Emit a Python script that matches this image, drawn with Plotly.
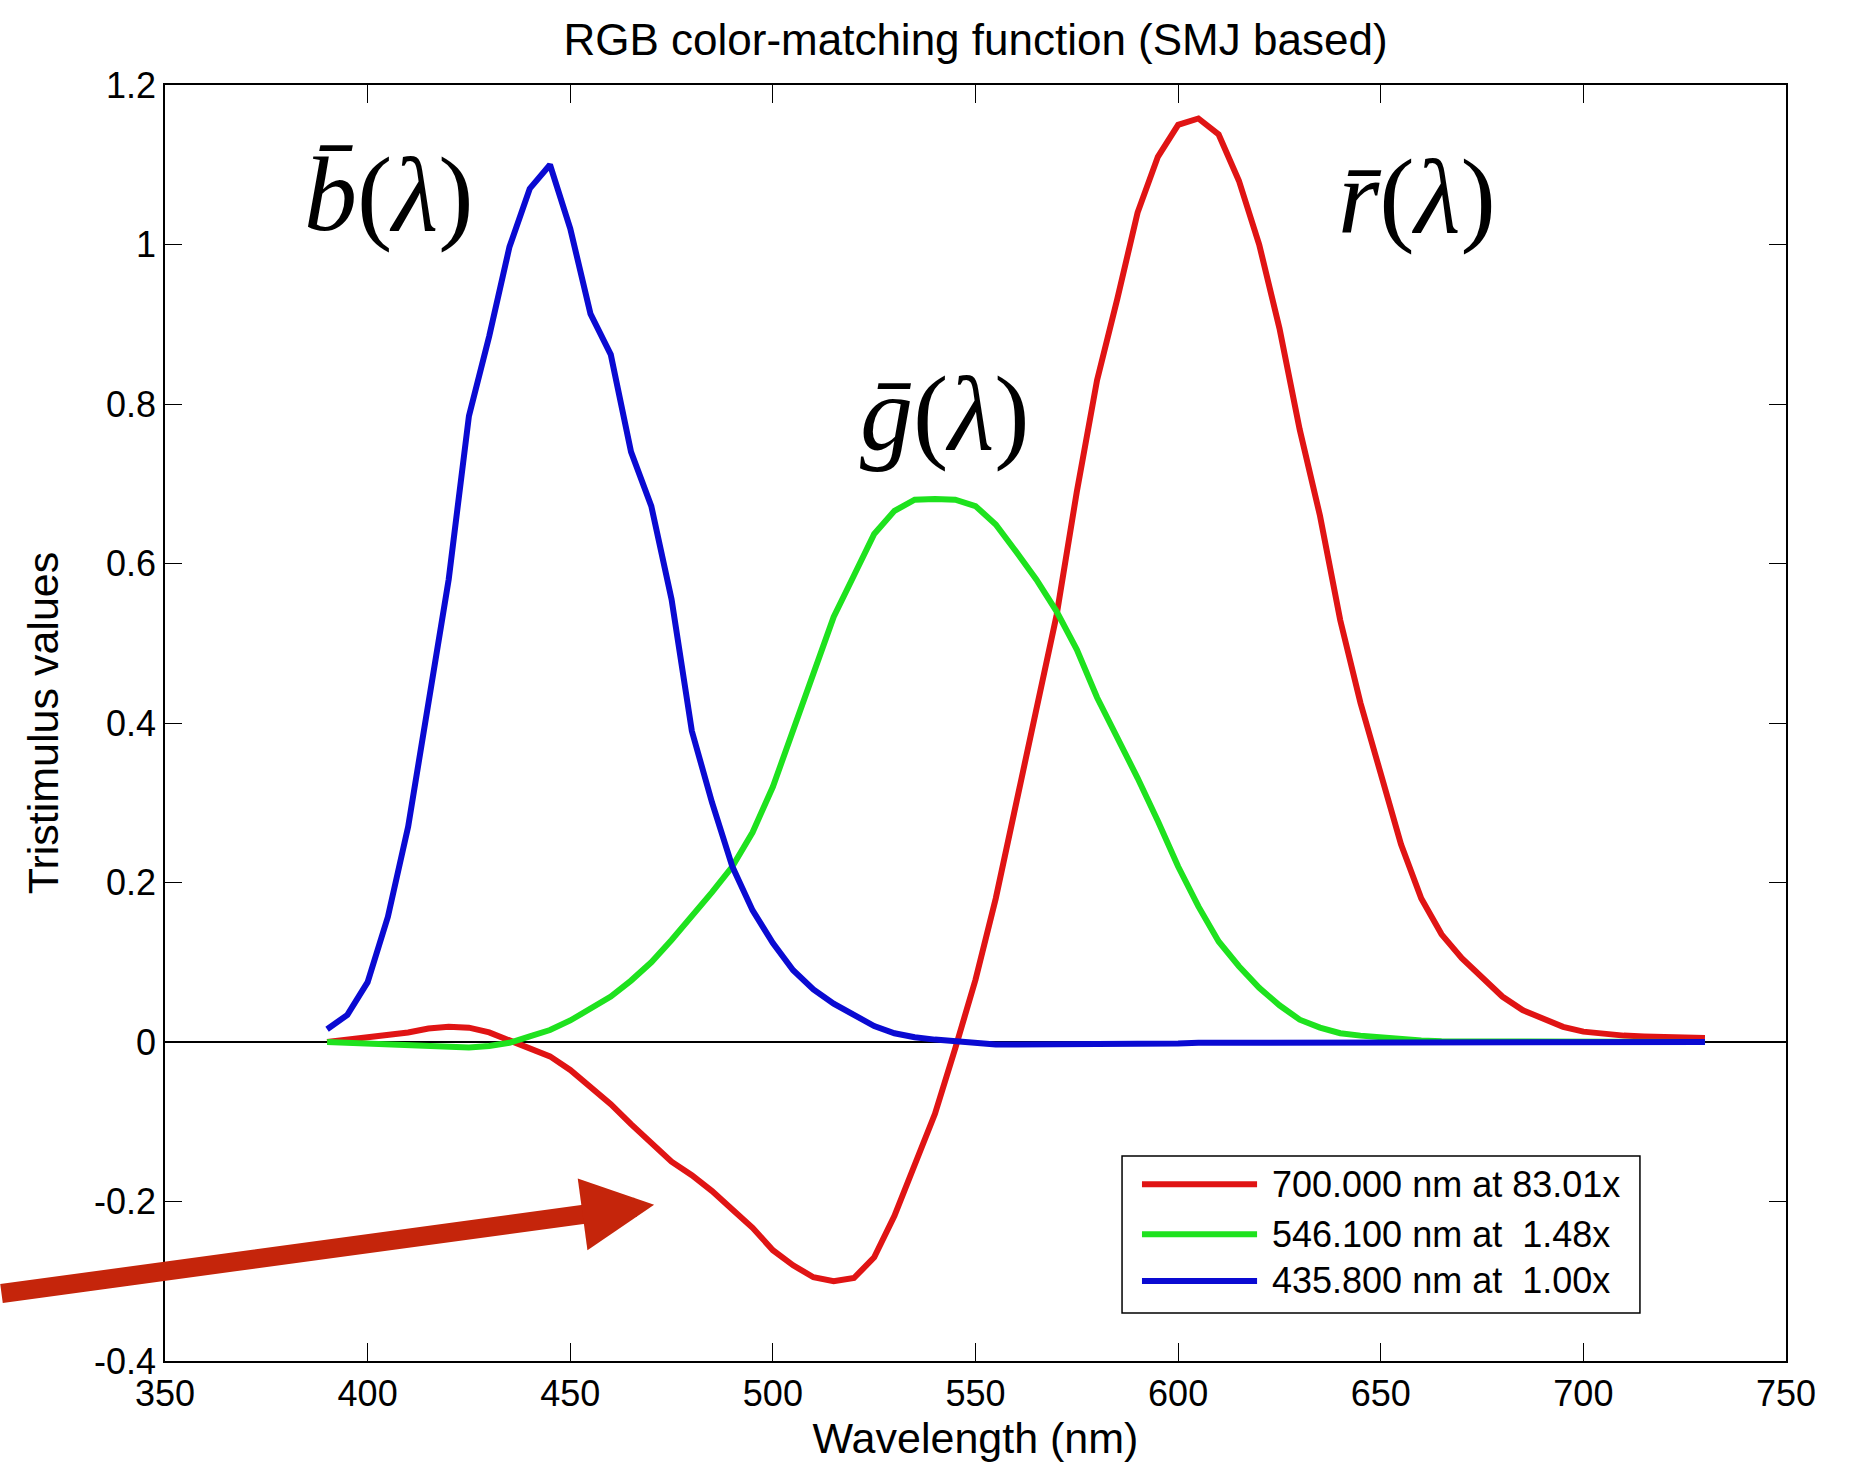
import plotly.graph_objects as go

# ---------------- data ----------------
wavelength = list(range(390, 735, 5))

r_bar = [0.000, 0.003, 0.007, 0.009, 0.012, 0.017, 0.019, 0.018, 0.012, 0.002,
         -0.008, -0.018, -0.035, -0.056, -0.078, -0.103, -0.127, -0.150, -0.167, -0.187,
         -0.210, -0.233, -0.261, -0.280, -0.295, -0.300, -0.296, -0.270, -0.218, -0.153,
         -0.090, -0.008, 0.078, 0.180, 0.300, 0.416, 0.535, 0.690, 0.830, 0.932,
         1.040, 1.110, 1.150, 1.158, 1.138, 1.080, 1.000, 0.895, 0.768, 0.660,
         0.529, 0.425, 0.333, 0.248, 0.180, 0.135, 0.105, 0.080, 0.057, 0.040,
         0.029, 0.019, 0.013, 0.010, 0.008, 0.007, 0.006, 0.006, 0.005]

g_bar = [0.000, -0.001, -0.002, -0.003, -0.004, -0.005, -0.006, -0.007, -0.005, -0.001,
         0.007, 0.015, 0.027, 0.041, 0.057, 0.077, 0.100, 0.128, 0.157, 0.188,
         0.220, 0.263, 0.320, 0.390, 0.458, 0.533, 0.585, 0.637, 0.666, 0.680,
         0.681, 0.680, 0.672, 0.649, 0.615, 0.580, 0.540, 0.492, 0.432, 0.382,
         0.331, 0.277, 0.220, 0.170, 0.126, 0.095, 0.068, 0.046, 0.028, 0.018,
         0.011, 0.008, 0.006, 0.003, 0.002, 0.001, 0.001, 0.001, 0.000, 0.000,
         0.000, 0.000, 0.000, 0.000, 0.000, 0.000, 0.000, 0.000, 0.000]

b_bar = [0.016, 0.034, 0.075, 0.157, 0.270, 0.420, 0.580, 0.785, 0.885, 0.997,
         1.070, 1.100, 1.020, 0.913, 0.862, 0.740, 0.672, 0.555, 0.390, 0.300,
         0.220, 0.165, 0.124, 0.090, 0.066, 0.048, 0.033, 0.020, 0.011, 0.006,
         0.003, 0.001, -0.002, -0.003, -0.003, -0.003, -0.003, -0.003, -0.003, -0.002,
         -0.002, -0.002, -0.002, -0.001, -0.001, -0.001, -0.001, -0.001, -0.001, -0.001,
         -0.001, -0.001, -0.001, -0.001, -0.001, 0.000, 0.000, 0.000, 0.000, 0.000,
         0.000, 0.000, 0.000, 0.000, 0.000, 0.000, 0.000, 0.000, 0.000]

series_values = [r_bar, g_bar, b_bar]
series_names = ["700.000 nm at 83.01x", "546.100 nm at \u00a01.48x", "435.800 nm at \u00a01.00x"]
series_colors = ["#E01414", "#1EE21E", "#0A0AD2"]

curve_labels = ["<i>r\u0304</i>(<i>\u03bb</i>)", "<i>g\u0304</i>(<i>\u03bb</i>)", "<i>b\u0304</i>(<i>\u03bb</i>)"]
curve_label_x = [658.9, 542.5, 405.3]
curve_label_y = [1.060, 0.788, 1.063]

x_ticks = [350, 400, 450, 500, 550, 600, 650, 700, 750]
y_ticks = [-0.4, -0.2, 0, 0.2, 0.4, 0.6, 0.8, 1, 1.2]
y_tick_labels = ["-0.4", "-0.2", "0", "0.2", "0.4", "0.6", "0.8", "1", "1.2"]

arrow_tip = (470.7, -0.204)

# ---------------- figure ----------------
SANS = "Liberation Sans, Arial, Helvetica, sans-serif"
fig = go.Figure()

for name, vals, col in zip(series_names, series_values, series_colors):
    fig.add_trace(go.Scatter(
        x=wavelength, y=vals, mode="lines", name=name,
        line=dict(color=col, width=6), showlegend=False,
    ))

annotations = []
for txt, lx, ly in zip(curve_labels, curve_label_x, curve_label_y):
    annotations.append(dict(
        x=lx, y=ly, xref="x", yref="y", text=txt, showarrow=False,
        font=dict(family="Liberation Serif, Times New Roman, serif", size=106, color="black"),
        xanchor="center", yanchor="middle",
    ))

# annotation arrow
annotations.append(dict(
    x=arrow_tip[0], y=arrow_tip[1], xref="x", yref="y", text="",
    showarrow=True, ax=-670, ay=89, axref="pixel", ayref="pixel",
    arrowhead=2, arrowwidth=19, arrowsize=0.76, arrowcolor="#C5250B", standoff=0,
))

# manual legend (MATLAB-style box with long line samples)
row_y = [0.1385, 0.0993, 0.0627]
shapes = [dict(type="rect", xref="paper", yref="paper", x0=0.5904, x1=0.9099,
               y0=0.0376, y1=0.1607, line=dict(color="black", width=1.5),
               fillcolor="white", layer="above")]
for name, col, yy in zip(series_names, series_colors, row_y):
    shapes.append(dict(type="line", xref="paper", yref="paper", x0=0.6027, x1=0.6737,
                       y0=yy, y1=yy, line=dict(color=col, width=6), layer="above"))
    annotations.append(dict(x=0.6814, y=yy, xref="paper", yref="paper", text=name,
                            showarrow=False, xanchor="left", yanchor="middle",
                            font=dict(family=SANS, size=36, color="black")))

axis_common = dict(
    showline=True, linecolor="black", linewidth=1.5, mirror="allticks",
    ticks="inside", tickcolor="black", tickwidth=1, showgrid=False,
    tickfont=dict(family=SANS, size=36, color="black"),
)

fig.update_layout(
    width=1852, height=1464, autosize=False,
    paper_bgcolor="white", plot_bgcolor="white",
    margin=dict(l=165, r=66, t=85, b=103, pad=0),
    title=dict(text="RGB color-matching function (SMJ based)", x=0.5, xref="paper",
               xanchor="center", y=1 - 40 / 1464, yanchor="middle", yref="container",
               font=dict(family=SANS, size=44, color="black")),
    xaxis=dict(range=[350, 750], tickvals=x_ticks, ticklen=18, zeroline=False,
               title=dict(text="Wavelength (nm)", standoff=8,
                          font=dict(family=SANS, size=43, color="black")),
               **axis_common),
    yaxis=dict(range=[-0.4, 1.2], tickvals=y_ticks, ticktext=y_tick_labels, ticklen=17,
               zeroline=True, zerolinecolor="black", zerolinewidth=1.5,
               title=dict(text="Tristimulus values", standoff=22,
                          font=dict(family=SANS, size=43, color="black")),
               **axis_common),
    annotations=annotations, shapes=shapes,
)

fig.write_html("out.html", config={"displayModeBar": False},
               post_script="document.body.style.margin='0';")
